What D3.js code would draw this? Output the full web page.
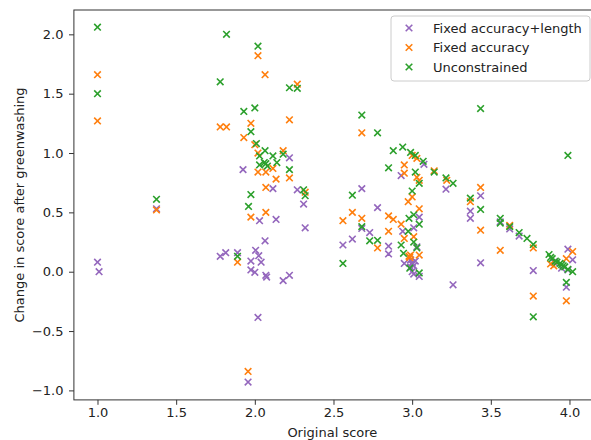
<!DOCTYPE html>
<html><head><meta charset="utf-8">
<script src="https://cdn.jsdelivr.net/npm/d3@7"></script>
<style>
html,body{margin:0;padding:0;background:#fff;}
svg{display:block;font-family:"DejaVu Sans",sans-serif;}
</style></head>
<body>
<script>
// ---- data ----
const seriesNames = ["Fixed accuracy+length", "Fixed accuracy", "Unconstrained"];
const seriesColors = ["#9467bd", "#ff7f0e", "#2ca02c"];

const purpleX = [1.0,1.01,1.375,1.78,1.815,1.89,1.925,1.957,1.975,1.975,2.0,2.005,2.02,2.025,2.03,2.04,2.065,2.07,2.075,2.115,2.135,2.18,2.22,2.22,2.27,2.31,2.32,2.56,2.62,2.68,2.68,2.73,2.78,2.85,2.85,2.93,2.94,2.95,3.0,3.0,2.99,3.01,3.01,3.01,3.03,3.045,3.045,3.075,3.215,3.26,3.37,3.37,3.435,3.435,3.56,3.62,3.68,3.77,3.9,3.95,3.99,3.99,3.98,4.02,2.99,3.02,3.0];
const purpleY = [0.08,0.0,0.53,0.13,0.16,0.16,0.86,-0.93,0.09,0.015,-0.005,0.18,-0.385,0.135,0.43,0.08,0.26,-0.03,-0.045,0.70,0.44,-0.075,0.96,-0.03,0.69,0.57,0.37,0.225,0.275,0.70,0.365,0.33,0.54,0.215,0.15,0.81,0.34,0.07,0.075,0.06,0.10,0.05,0.37,-0.02,0.21,0.46,-0.04,0.905,0.695,-0.11,0.51,0.45,0.64,0.075,0.42,0.36,0.30,0.01,0.08,0.03,0.19,0.015,-0.13,0.10,0.04,0.09,0.0];

const orangeX = [1.0,1.0,1.375,1.78,1.82,1.89,1.93,1.957,1.975,1.975,2.0,2.02,2.02,2.02,2.065,2.07,2.07,2.07,2.115,2.135,2.18,2.22,2.22,2.27,2.32,2.56,2.62,2.68,2.68,2.78,2.85,2.85,2.88,2.93,2.95,2.95,2.95,2.975,2.985,2.99,3.0,3.0,3.01,3.03,3.03,3.045,3.045,3.045,3.14,3.22,3.37,3.435,3.435,3.56,3.62,3.77,3.77,3.88,3.9,3.98,3.98,4.02,2.98];
const orangeY = [1.66,1.27,0.52,1.22,1.22,0.08,1.13,-0.84,1.25,0.46,1.07,1.82,1.0,0.84,1.66,0.84,0.50,0.71,0.87,0.78,1.02,1.28,0.79,1.58,0.67,0.43,0.50,1.17,0.45,0.20,0.47,0.34,0.44,0.40,0.83,0.90,0.28,0.59,0.12,0.14,0.98,0.63,0.295,0.955,0.795,0.77,0.53,0.14,0.85,0.77,0.59,0.71,0.35,0.18,0.39,0.20,-0.205,0.065,0.05,0.11,-0.245,0.17,0.13];

const greenX = [1.0,1.0,1.375,1.78,1.82,1.89,1.93,1.96,1.975,1.975,2.0,2.01,2.02,2.03,2.03,2.065,2.07,2.06,2.08,2.115,2.14,2.18,2.22,2.22,2.27,2.31,2.32,2.56,2.62,2.68,2.68,2.73,2.78,2.78,2.85,2.88,2.93,2.94,2.945,2.975,2.98,2.985,2.99,3.0,3.01,3.01,3.02,3.02,3.03,3.045,3.045,3.045,3.07,3.14,3.215,3.26,3.37,3.435,3.435,3.56,3.56,3.62,3.68,3.73,3.77,3.77,3.87,3.88,3.89,3.91,3.92,3.94,3.95,3.96,3.97,3.99,3.98,4.02,3.99];
const greenY = [2.06,1.50,0.61,1.60,2.0,0.13,1.35,0.55,1.18,0.65,1.38,1.08,1.90,0.975,0.90,1.02,0.91,0.92,0.89,0.975,0.92,0.99,1.55,0.86,1.545,0.69,0.64,0.07,0.645,1.32,0.38,0.26,1.17,0.265,0.875,1.02,0.225,1.05,0.155,0.34,0.45,0.03,1.005,0.68,0.48,0.25,0.98,0.84,0.20,0.745,0.40,-0.01,0.93,0.84,0.79,0.745,0.62,1.375,0.525,0.45,0.41,0.38,0.33,0.28,0.23,-0.38,0.145,0.12,0.11,0.09,0.08,0.07,0.06,0.05,0.04,0.98,-0.09,0.0,0.02];

const xTicks = [1.0,1.5,2.0,2.5,3.0,3.5,4.0];
const yTicks = [-1.0,-0.5,0.0,0.5,1.0,1.5,2.0];
const xLabel = "Original score";
const yLabel = "Change in score after greenwashing";

// ---- drawing ----
const W = 591, H = 440;
const FS = 13;
const svg = d3.select("body").append("svg").attr("width", W).attr("height", H);
const pL = 73.9, pR = 597.8, pT = 10, pB = 399.9;
const x = d3.scaleLinear().domain([0.85, 4.18]).range([pL, pR]);
const y = d3.scaleLinear().domain([-1.08, 2.205]).range([pB, pT]);
const fmt = v => d3.format(".1f")(v).replace("-", "\u2212");

const series = [
  {name: seriesNames[0], color: seriesColors[0], xs: purpleX, ys: purpleY},
  {name: seriesNames[1], color: seriesColors[1], xs: orangeX, ys: orangeY},
  {name: seriesNames[2], color: seriesColors[2], xs: greenX, ys: greenY}
];

const r = 3.3;
const xPath = (cx, cy) => `M${cx-r},${cy-r}L${cx+r},${cy+r}M${cx-r},${cy+r}L${cx+r},${cy-r}`;

const plot = svg.append("g");
series.forEach(s => {
  plot.append("g").selectAll("path").data(s.xs.map((v,i)=>[v, s.ys[i]])).join("path")
    .attr("d", d => xPath(x(d[0]), y(d[1])))
    .attr("stroke", s.color).attr("stroke-width", 1.6).attr("fill", "none");
});

// axes
const xAxis = d3.axisBottom(x).tickValues(xTicks).tickFormat(fmt).tickSize(4.9).tickPadding(3);
const yAxis = d3.axisLeft(y).tickValues(yTicks).tickFormat(fmt).tickSize(4.9).tickPadding(5.5);
const gx = svg.append("g").attr("transform", `translate(0,${pB})`).call(xAxis);
const gy = svg.append("g").attr("transform", `translate(${pL},0)`).call(yAxis);
[gx, gy].forEach(g => {
  g.select(".domain").remove();
  g.selectAll("line").attr("stroke", "#333").attr("stroke-width", 1);
  g.selectAll("text").attr("fill", "#222").attr("font-size", FS).attr("font-family", "DejaVu Sans");
});

// frame
svg.append("rect").attr("x", pL).attr("y", pT).attr("width", pR-pL).attr("height", pB-pT)
  .attr("fill", "none").attr("stroke", "#333").attr("stroke-width", 1);

svg.append("text").attr("x", (pL+pR)/2 - 3.5).attr("y", 437).attr("text-anchor", "middle")
  .attr("font-size", FS).attr("fill", "#222").text(xLabel);
svg.append("text").attr("transform", `translate(24,${(pT+pB)/2}) rotate(-90)`).attr("text-anchor", "middle")
  .attr("font-size", FS).attr("fill", "#222").text(yLabel);

// legend
const lg = svg.append("g");
lg.append("rect").attr("x", 391).attr("y", 16).attr("width", 199).attr("height", 65).attr("rx", 3)
  .attr("fill", "#fff").attr("fill-opacity", 0.8).attr("stroke", "#ccc").attr("stroke-width", 1);
series.forEach((s, i) => {
  const cy = 28 + i * 19.5;
  lg.append("path").attr("d", xPath(409, cy)).attr("stroke", s.color).attr("stroke-width", 1.6).attr("fill", "none");
  lg.append("text").attr("x", 433).attr("y", cy).attr("dy", "0.35em").attr("font-size", FS).attr("fill", "#222").text(s.name);
});
</script>
</body></html>
